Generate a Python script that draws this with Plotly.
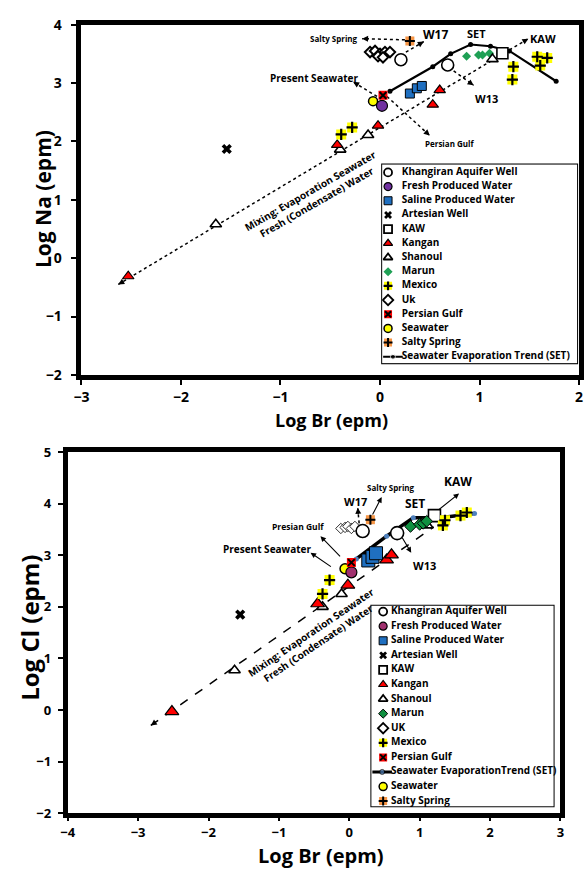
import math
import plotly.graph_objects as go

W, H = 585, 873

# ---------------- Top panel data: Log Na vs Log Br (epm) ----------------
TOP_KHANGIRAN_BR = [0.21, 0.68]
TOP_KHANGIRAN_NA = [3.40, 3.31]
TOP_FRESH_BR = [0.02]
TOP_FRESH_NA = [2.61]
TOP_SALINE_BR = [0.30, 0.37, 0.42]
TOP_SALINE_NA = [2.82, 2.91, 2.95]
TOP_ARTESIAN_BR = [-1.54]
TOP_ARTESIAN_NA = [1.87]
TOP_KAW_BR = [1.23]
TOP_KAW_NA = [3.51]
TOP_KANGAN_BR = [-2.53, -0.43, -0.02, 0.53, 0.60]
TOP_KANGAN_NA = [-0.31, 1.94, 2.27, 2.63, 2.88]
TOP_SHANOUL_BR = [-1.65, -0.40, -0.12, 1.13]
TOP_SHANOUL_NA = [0.58, 1.86, 2.11, 3.41]
TOP_MARUN_BR = [0.87, 0.99, 1.03, 1.10]
TOP_MARUN_NA = [3.46, 3.48, 3.48, 3.51]
TOP_MEXICO_BR = [-0.39, -0.28, 1.34, 1.33, 1.58, 1.68, 1.61]
TOP_MEXICO_NA = [2.12, 2.24, 3.28, 3.06, 3.45, 3.43, 3.30]
TOP_UK_BR = [-0.10, -0.05, 0.00, 0.05, 0.10, -0.02, 0.03]
TOP_UK_NA = [3.53, 3.55, 3.50, 3.53, 3.53, 3.46, 3.44]
TOP_PERSIAN_BR = [0.03]
TOP_PERSIAN_NA = [2.79]
TOP_SEAWATER_BR = [-0.07]
TOP_SEAWATER_NA = [2.69]
TOP_SALTY_BR = [0.30]
TOP_SALTY_NA = [3.72]
TOP_SET_BR = [0.10, 0.53, 0.71, 0.91, 1.11, 1.30, 1.77]
TOP_SET_NA = [2.86, 3.28, 3.50, 3.66, 3.63, 3.55, 3.03]
TOP_MIXING_BR = [-2.63, 1.49]
TOP_MIXING_NA = [-0.45, 3.76]

# ---------------- Bottom panel data: Log Cl vs Log Br (epm) ----------------
BOT_KHANGIRAN_BR = [0.19, 0.68]
BOT_KHANGIRAN_CL = [3.47, 3.43]
BOT_FRESH_BR = [0.03]
BOT_FRESH_CL = [2.67]
BOT_SALINE_BR = [0.27, 0.33, 0.38]
BOT_SALINE_CL = [2.90, 2.97, 3.04]
BOT_ARTESIAN_BR = [-1.55]
BOT_ARTESIAN_CL = [1.85]
BOT_KAW_BR = [1.21]
BOT_KAW_CL = [3.77]
BOT_KANGAN_BR = [-2.52, -0.45, -0.02, 0.53, 0.60]
BOT_KANGAN_CL = [-0.03, 2.06, 2.42, 2.91, 3.01]
BOT_SHANOUL_BR = [-1.63, -0.38, -0.11, 1.11]
BOT_SHANOUL_CL = [0.77, 2.00, 2.25, 3.58]
BOT_MARUN_BR = [0.87, 1.00, 1.05, 1.10]
BOT_MARUN_CL = [3.56, 3.60, 3.62, 3.66]
BOT_UK_BR = [-0.12, -0.06, -0.02, 0.03, 0.08]
BOT_UK_CL = [3.52, 3.54, 3.56, 3.52, 3.56]
BOT_MEXICO_BR = [-0.38, -0.28, 1.33, 1.36, 1.58, 1.67]
BOT_MEXICO_CL = [2.25, 2.52, 3.58, 3.68, 3.77, 3.83]
BOT_PERSIAN_BR = [0.03]
BOT_PERSIAN_CL = [2.86]
BOT_SEAWATER_BR = [-0.06]
BOT_SEAWATER_CL = [2.74]
BOT_SALTY_BR = [0.30]
BOT_SALTY_CL = [3.69]
BOT_SET_BR = [0.10, 0.53, 0.91, 1.29, 1.78]
BOT_SET_CL = [2.93, 3.37, 3.73, 3.73, 3.81]
BOT_MIXING_BR = [-2.82, 1.20]
BOT_MIXING_CL = [-0.30, 3.55]

# ---------------- Legend labels ----------------
TOP_LEGEND = ["Khangiran Aquifer Well", "Fresh Produced Water", "Saline Produced Water",
              "Artesian Well", "KAW", "Kangan", "Shanoul", "Marun", "Mexico", "Uk",
              "Persian Gulf", "Seawater", "Salty Spring", "Seawater Evaporation Trend (SET)"]
TOP_LEGEND_KINDS = ["khangiran", "fresh", "saline", "artesian", "kaw", "kangan", "shanoul",
                    "marun", "mexico", "uk", "persian", "seawater", "salty", "set"]
BOT_LEGEND = ["Khangiran Aquifer Well", "Fresh Produced Water", "Saline Produced Water",
              "Artesian Well", "KAW", "Kangan", "Shanoul", "Marun", "UK", "Mexico",
              "Persian Gulf", "Seawater EvaporationTrend (SET)", "Seawater", "Salty Spring"]
BOT_LEGEND_KINDS = ["khangiran", "fresh", "saline", "artesian", "kaw", "kangan", "shanoul",
                    "marun", "uk", "mexico", "persian", "set", "seawater", "salty"]

# ---------------- styling ----------------
FONT = "Open Sans"
PURPLE = "#7030A0"
MAGENTA = "#A0306E"
BLUE = "#1F6FC0"
GREEN_TOP = "#1FA055"
GREEN_BOT = "#109040"
SET_BLUE = "#4F81BD"


def layers(kind, size, panel):
    if kind == "khangiran":
        return [dict(symbol="circle", size=size, color="white", line=dict(color="black", width=1.6))]
    if kind == "fresh":
        return [dict(symbol="circle", size=size, color=PURPLE if panel == "top" else MAGENTA,
                     line=dict(color="black", width=1.2))]
    if kind == "saline":
        return [dict(symbol="square", size=size, color=BLUE, line=dict(color="black", width=1))]
    if kind == "artesian":
        return [dict(symbol="x", size=size, color="black", line=dict(width=0))]
    if kind == "kaw":
        return [dict(symbol="square", size=size, color="white", line=dict(color="black", width=1.6))]
    if kind == "kangan":
        return [dict(symbol="triangle-up", size=size, color="#FF0000", line=dict(color="black", width=1.2))]
    if kind == "shanoul":
        return [dict(symbol="triangle-up", size=size, color="white", line=dict(color="black", width=1.6))]
    if kind == "marun":
        if panel == "top":
            return [dict(symbol="diamond", size=size, color=GREEN_TOP, line=dict(width=0))]
        return [dict(symbol="diamond", size=size, color=GREEN_BOT, line=dict(color="black", width=1))]
    if kind == "uk":
        return [dict(symbol="diamond", size=size, color="white",
                     line=dict(color="black", width=2 if panel == "top" else 0.8))]
    if kind == "mexico":
        return [dict(symbol="square", size=size, color="#FFFF00", line=dict(width=0)),
                dict(symbol="cross-thin", size=size * 0.8, color="black", line=dict(color="black", width=2.2))]
    if kind == "persian":
        return [dict(symbol="square", size=size, color="#FF0000", line=dict(width=0)),
                dict(symbol="x-thin", size=size * 0.75, color="black", line=dict(color="black", width=2))]
    if kind == "seawater":
        return [dict(symbol="circle", size=size, color="#FFFF00", line=dict(color="black", width=1.5))]
    if kind == "salty":
        return [dict(symbol="square", size=size, color="#F79646", line=dict(width=0)),
                dict(symbol="cross-thin", size=size * 0.8, color="black", line=dict(color="black", width=2))]
    raise ValueError(kind)


fig = go.Figure()


def add_points(x, y, kind, size, panel, xa, ya):
    for m in layers(kind, size, panel):
        fig.add_trace(go.Scatter(x=x, y=y, mode="markers", marker=m, xaxis=xa, yaxis=ya,
                                 showlegend=False, hoverinfo="skip"))


# ---- pixel geometry of panels ----
TOP_BOX = (75, 15, 583, 373)      # left, top, right, bottom (px)
BOT_BOX = (61, 452, 564, 821)
TOP_RANGE_X, TOP_RANGE_Y = (-3, 2), (-2, 4)
BOT_RANGE_X, BOT_RANGE_Y = (-4, 3), (-2, 5)


def px_scale(box, rx, ry):
    return (box[2] - box[0]) / (rx[1] - rx[0]), (box[3] - box[1]) / (ry[1] - ry[0])


TOP_SX, TOP_SY = px_scale(TOP_BOX, TOP_RANGE_X, TOP_RANGE_Y)
BOT_SX, BOT_SY = px_scale(BOT_BOX, BOT_RANGE_X, BOT_RANGE_Y)

annotations = []


def arrow_head(tail, tip, xa, ya, sx, sy, length=8):
    dxp = (tip[0] - tail[0]) * sx
    dyp = (tip[1] - tail[1]) * sy
    d = math.hypot(dxp, dyp)
    bx = tip[0] - dxp / d * length / sx
    by = tip[1] - dyp / d * length / sy
    annotations.append(dict(x=tip[0], y=tip[1], ax=bx, ay=by, xref=xa, yref=ya,
                            axref=xa, ayref=ya, text="", showarrow=True, arrowhead=2,
                            arrowsize=1, arrowwidth=1.2, arrowcolor="black"))


def arrow(tail, tip, xa, ya, sx, sy, style):
    if style == "solid":
        annotations.append(dict(x=tip[0], y=tip[1], ax=tail[0], ay=tail[1], xref=xa, yref=ya,
                                axref=xa, ayref=ya, text="", showarrow=True, arrowhead=2,
                                arrowsize=1, arrowwidth=1.1, arrowcolor="black"))
    else:
        fig.add_trace(go.Scatter(x=[tail[0], tip[0]], y=[tail[1], tip[1]], mode="lines",
                                 line=dict(color="black", width=1.5, dash=style),
                                 xaxis=xa, yaxis=ya, showlegend=False, hoverinfo="skip"))
        arrow_head(tail, tip, xa, ya, sx, sy)


def label(text, x, y, xa, ya, size, angle=0):
    annotations.append(dict(x=x, y=y, xref=xa, yref=ya, text=text, showarrow=False,
                            textangle=angle, xanchor="center", yanchor="middle",
                            font=dict(family=FONT, size=size, color="black", weight="bold")))


# ================= TOP PANEL =================
xa, ya = "x", "y"
fig.add_trace(go.Scatter(x=TOP_MIXING_BR, y=TOP_MIXING_NA, mode="lines",
                         line=dict(color="black", width=1.5, dash="dot"), xaxis=xa, yaxis=ya,
                         showlegend=False, hoverinfo="skip"))
arrow_head((TOP_MIXING_BR[1], TOP_MIXING_NA[1]), (TOP_MIXING_BR[0], TOP_MIXING_NA[0]), xa, ya, TOP_SX, TOP_SY)
arrow_head((TOP_MIXING_BR[0], TOP_MIXING_NA[0]), (TOP_MIXING_BR[1], TOP_MIXING_NA[1]), xa, ya, TOP_SX, TOP_SY)
fig.add_trace(go.Scatter(x=TOP_SET_BR, y=TOP_SET_NA, mode="lines+markers",
                         line=dict(color="black", width=2.2), marker=dict(color="black", size=5),
                         xaxis=xa, yaxis=ya, showlegend=False, hoverinfo="skip"))
for tail, tip in [((0.25, 3.74), (-0.18, 3.76)), ((0.26, 3.53), (0.44, 3.71)),
                  ((-0.03, 2.77), (-0.27, 3.02)), ((0.07, 2.77), (0.50, 2.10)),
                  ((0.74, 3.21), (0.94, 2.96))]:
    arrow(tail, tip, xa, ya, TOP_SX, TOP_SY, "dot")

add_points(TOP_UK_BR, TOP_UK_NA, "uk", 8, "top", xa, ya)
add_points(TOP_KHANGIRAN_BR, TOP_KHANGIRAN_NA, "khangiran", 12, "top", xa, ya)
add_points(TOP_KAW_BR, TOP_KAW_NA, "kaw", 11, "top", xa, ya)
add_points(TOP_MARUN_BR, TOP_MARUN_NA, "marun", 7, "top", xa, ya)
add_points(TOP_SHANOUL_BR, TOP_SHANOUL_NA, "shanoul", 10, "top", xa, ya)
add_points(TOP_KANGAN_BR, TOP_KANGAN_NA, "kangan", 10, "top", xa, ya)
add_points(TOP_SALINE_BR, TOP_SALINE_NA, "saline", 9, "top", xa, ya)
add_points(TOP_ARTESIAN_BR, TOP_ARTESIAN_NA, "artesian", 9, "top", xa, ya)
add_points(TOP_MEXICO_BR, TOP_MEXICO_NA, "mexico", 10, "top", xa, ya)
add_points(TOP_SEAWATER_BR, TOP_SEAWATER_NA, "seawater", 9, "top", xa, ya)
add_points(TOP_FRESH_BR, TOP_FRESH_NA, "fresh", 11, "top", xa, ya)
add_points(TOP_PERSIAN_BR, TOP_PERSIAN_NA, "persian", 9, "top", xa, ya)
add_points(TOP_SALTY_BR, TOP_SALTY_NA, "salty", 9, "top", xa, ya)

label("Salty Spring", -0.46, 3.76, xa, ya, 8)
label("W17", 0.56, 3.83, xa, ya, 12)
label("SET", 0.97, 3.85, xa, ya, 11)
label("KAW", 1.64, 3.77, xa, ya, 11)
label("Present Seawater", -0.66, 3.09, xa, ya, 10)
label("Persian Gulf", 0.70, 1.97, xa, ya, 8)
label("W13", 1.07, 2.74, xa, ya, 11)
label("Mixing: Evaporation Seawater<br>Fresh (Condensate) Water", -0.67, 1.05, xa, ya, 10, -30)

# ================= BOTTOM PANEL =================
xa, ya = "x2", "y2"
fig.add_trace(go.Scatter(x=BOT_MIXING_BR, y=BOT_MIXING_CL, mode="lines",
                         line=dict(color="black", width=1.5, dash="dash"), xaxis=xa, yaxis=ya,
                         showlegend=False, hoverinfo="skip"))
arrow_head((BOT_MIXING_BR[1], BOT_MIXING_CL[1]), (BOT_MIXING_BR[0], BOT_MIXING_CL[0]), xa, ya, BOT_SX, BOT_SY)
fig.add_trace(go.Scatter(x=BOT_SET_BR, y=BOT_SET_CL, mode="lines+markers",
                         line=dict(color="black", width=3.5), marker=dict(color=SET_BLUE, size=5),
                         xaxis=xa, yaxis=ya, showlegend=False, hoverinfo="skip"))
for tail, tip, st in [((0.32, 3.76), (0.46, 4.13), "solid"), ((0.14, 3.62), (0.12, 3.92), "dot"),
                      ((1.25, 3.86), (1.56, 4.20), "solid"), ((-0.11, 2.95), (-0.41, 3.37), "solid"),
                      ((-0.24, 2.76), (-0.55, 3.05), "solid"), ((0.74, 3.37), (0.88, 3.05), "solid")]:
    arrow(tail, tip, xa, ya, BOT_SX, BOT_SY, st)

add_points(BOT_UK_BR, BOT_UK_CL, "uk", 8, "bot", xa, ya)
add_points(BOT_KHANGIRAN_BR, BOT_KHANGIRAN_CL, "khangiran", 13, "bot", xa, ya)
add_points(BOT_SHANOUL_BR, BOT_SHANOUL_CL, "shanoul", 10, "bot", xa, ya)
add_points(BOT_KAW_BR, BOT_KAW_CL, "kaw", 12, "bot", xa, ya)
add_points(BOT_MARUN_BR, BOT_MARUN_CL, "marun", 9, "bot", xa, ya)
add_points(BOT_KANGAN_BR, BOT_KANGAN_CL, "kangan", 12, "bot", xa, ya)
add_points(BOT_SALINE_BR, BOT_SALINE_CL, "saline", 13, "bot", xa, ya)
add_points(BOT_ARTESIAN_BR, BOT_ARTESIAN_CL, "artesian", 9, "bot", xa, ya)
add_points(BOT_MEXICO_BR, BOT_MEXICO_CL, "mexico", 10, "bot", xa, ya)
add_points(BOT_SEAWATER_BR, BOT_SEAWATER_CL, "seawater", 10, "bot", xa, ya)
add_points(BOT_FRESH_BR, BOT_FRESH_CL, "fresh", 11, "bot", xa, ya)
add_points(BOT_PERSIAN_BR, BOT_PERSIAN_CL, "persian", 9, "bot", xa, ya)
add_points(BOT_SALTY_BR, BOT_SALTY_CL, "salty", 9, "bot", xa, ya)

label("Salty Spring", 0.59, 4.32, xa, ya, 8)
label("W17", 0.09, 4.04, xa, ya, 11)
label("SET", 0.94, 4.00, xa, ya, 12)
label("KAW", 1.54, 4.43, xa, ya, 12)
label("Presian Gulf", -0.73, 3.56, xa, ya, 8.5)
label("Present Seawater", -1.17, 3.12, xa, ya, 10)
label("W13", 1.07, 2.80, xa, ya, 11)
label("Mixing: Evaporation Seawater<br>Fresh (Condensate) Water", -0.49, 1.40, xa, ya, 10, -34)

# ================= LEGENDS (drawn on helper axes) =================
shapes = []


def legend_block(labels, kinds, panel, box, py0, step, sym_x, txt_x, line_x, xname, yname):
    x0, y0, x1, y1 = box
    shapes.append(dict(type="rect", xref="paper", yref="paper", x0=x0 / W, x1=x1 / W,
                       y0=1 - y1 / H, y1=1 - y0 / H, line=dict(color="black", width=2),
                       fillcolor="white", layer="below"))
    fig.layout[xname.replace("x", "xaxis")] = dict(domain=[x0 / W, x1 / W], range=[0, x1 - x0],
                                                   visible=False, anchor=yname, fixedrange=True)
    fig.layout[yname.replace("y", "yaxis")] = dict(domain=[1 - y1 / H, 1 - y0 / H],
                                                   range=[(y1 - py0) / step, (y0 - py0) / step],
                                                   visible=False, anchor=xname, fixedrange=True)
    for i, (lab, kind) in enumerate(zip(labels, kinds)):
        if kind == "set":
            fig.add_trace(go.Scatter(x=[line_x[0], (line_x[0] + line_x[1]) / 2, line_x[1]], y=[i, i, i],
                                     mode="lines+markers",
                                     line=dict(color="black", width=2 if panel == "top" else 3),
                                     marker=dict(size=[0, 5, 0], color="black" if panel == "top" else SET_BLUE),
                                     xaxis=xname, yaxis=yname, showlegend=False, hoverinfo="skip"))
        else:
            size = 8 if kind not in ("marun", "artesian") else 7
            for m in layers(kind, size, panel):
                if kind in ("khangiran", "kaw", "shanoul", "uk"):
                    m = dict(m, line=dict(color="black", width=1.8))
                fig.add_trace(go.Scatter(x=[sym_x], y=[i], mode="markers", marker=m,
                                         xaxis=xname, yaxis=yname, showlegend=False, hoverinfo="skip"))
        fig.add_trace(go.Scatter(x=[txt_x], y=[i], mode="text", text=[lab], textposition="middle right",
                                 textfont=dict(family=FONT, size=10, color="black", weight="bold"),
                                 xaxis=xname, yaxis=yname, showlegend=False, hoverinfo="skip",
                                 cliponaxis=False))


legend_block(TOP_LEGEND, TOP_LEGEND_KINDS, "top", (382, 158, 581, 361), 166, 14.5, 6, 20, (1, 21), "x3", "y3")
legend_block(BOT_LEGEND, BOT_LEGEND_KINDS, "bot", (371, 609, 557, 814), 615, 14.9, 12, 20, (1, 21), "x4", "y4")

# ================= AXES =================
common = dict(showgrid=False, zeroline=False, showline=True, linecolor="black", linewidth=5,
              mirror=True, ticks="outside", ticklen=5, tickwidth=1.5, tickcolor="black",
              dtick=1, fixedrange=True)


def tf(size):
    return dict(family=FONT, size=size, color="black", weight="bold")


fig.update_layout(
    width=W, height=H, margin=dict(l=0, r=0, t=0, b=0),
    paper_bgcolor="white", plot_bgcolor="white", showlegend=False,
    xaxis=dict(common, domain=[TOP_BOX[0] / W, TOP_BOX[2] / W], range=list(TOP_RANGE_X),
               anchor="y", tickfont=tf(14)),
    yaxis=dict(common, domain=[1 - TOP_BOX[3] / H, 1 - TOP_BOX[1] / H], range=list(TOP_RANGE_Y),
               anchor="x", tickfont=tf(14), ticklabelstandoff=7),
    xaxis2=dict(common, domain=[BOT_BOX[0] / W, BOT_BOX[2] / W], range=list(BOT_RANGE_X),
                anchor="y2", tickfont=tf(13), ticklen=3),
    yaxis2=dict(common, domain=[1 - BOT_BOX[3] / H, 1 - BOT_BOX[1] / H], range=list(BOT_RANGE_Y),
                anchor="x2", tickfont=tf(13), ticklabelstandoff=4),
)


def ptitle(text, px, py, size, angle=0):
    annotations.append(dict(x=px / W, y=1 - py / H, xref="paper", yref="paper", text=text,
                            showarrow=False, textangle=angle, xanchor="center", yanchor="middle",
                            font=dict(family=FONT, size=size, color="black", weight="bold")))


ptitle("Log Br (epm)", 330, 419, 18)
ptitle("Log Na (epm)", 36, 193, 21, -90)
ptitle("Log Br (epm)", 320, 864, 20)
ptitle("Log Cl (epm)", 22, 632, 24, -90)

fig.update_layout(annotations=annotations, shapes=shapes)
fig.write_html("out.html")
